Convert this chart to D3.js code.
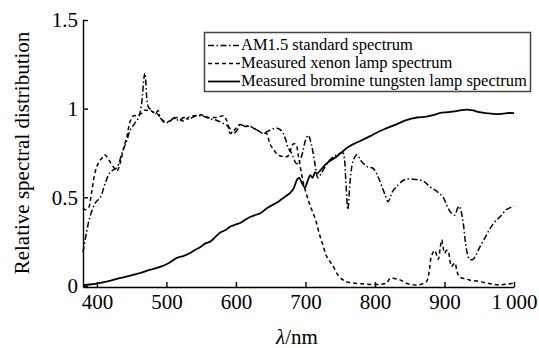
<!DOCTYPE html>
<html>
<head>
<meta charset="utf-8">
<script src="https://cdn.jsdelivr.net/npm/d3@7/dist/d3.min.js"></script>
<style>
  body { margin: 0; background: #fff; }
  .axis path, .axis line { stroke: #000; stroke-width: 1.4px; }
</style>
</head>
<body>
<div id="chart"></div>
<script>
// wavelength (nm), relative value
const am15 = [[380,0.19],[385,0.3],[390,0.39],[398,0.47],[405,0.5],[412,0.58],[419,0.64],[429,0.67],[436,0.75],[443,0.82],[448,0.88],[455,0.92],[460,0.95],[464,1.02],[469,1.2],[474,1.01],[479,0.99],[484,0.97],[488,0.99],[491,0.95],[498,0.92],[505,0.93],[512,0.95],[518,0.93],[525,0.95],[532,0.94],[540,0.955],[550,0.96],[558,0.95],[565,0.94],[572,0.935],[580,0.92],[589,0.9],[596,0.86],[602,0.88],[606,0.91],[613,0.9],[620,0.9],[630,0.88],[639,0.86],[645,0.87],[652,0.885],[659,0.89],[664,0.88],[668,0.86],[672,0.82],[675,0.78],[680,0.75],[687,0.69],[691,0.7],[695,0.74],[700,0.82],[704,0.85],[709,0.79],[714,0.68],[718,0.61],[722,0.63],[728,0.67],[735,0.71],[745,0.74],[754,0.75],[756,0.72],[758,0.6],[761,0.43],[764,0.58],[767,0.68],[770,0.72],[774,0.74],[778,0.72],[781,0.7],[790,0.67],[797,0.665],[804,0.62],[810,0.56],[815,0.51],[819,0.475],[825,0.53],[831,0.56],[843,0.6],[860,0.6],[870,0.59],[879,0.56],[890,0.53],[898,0.5],[905,0.44],[910,0.41],[915,0.4],[918,0.43],[921,0.45],[924,0.42],[927,0.355],[930,0.25],[933,0.18],[936,0.15],[941,0.15],[946,0.18],[951,0.22],[958,0.27],[965,0.32],[972,0.36],[980,0.39],[989,0.43],[1000,0.45]];

const xenon = [[380,0.44],[384,0.43],[388,0.44],[392,0.52],[398,0.65],[403,0.7],[407,0.72],[411,0.74],[414,0.73],[419,0.7],[424,0.67],[429,0.65],[434,0.7],[438,0.77],[443,0.84],[448,0.93],[453,0.96],[458,0.96],[462,0.97],[465,0.975],[468,0.99],[472,0.99],[477,0.99],[481,0.98],[486,0.975],[491,0.95],[496,0.93],[505,0.93],[510,0.94],[515,0.95],[520,0.94],[525,0.93],[530,0.945],[534,0.955],[540,0.96],[549,0.965],[555,0.96],[560,0.95],[566,0.95],[572,0.95],[577,0.955],[582,0.96],[587,0.93],[592,0.86],[598,0.88],[606,0.91],[613,0.9],[620,0.9],[630,0.88],[639,0.86],[644,0.86],[649,0.8],[654,0.77],[660,0.74],[668,0.73],[674,0.73],[678,0.76],[682,0.8],[686,0.8],[690,0.73],[694,0.64],[697,0.58],[702,0.51],[707,0.45],[714,0.38],[721,0.28],[726,0.22],[730,0.17],[735,0.14],[740,0.11],[747,0.06],[754,0.034],[760,0.022],[768,0.017],[780,0.012],[795,0.008],[810,0.01],[817,0.017],[821,0.04],[824,0.045],[830,0.04],[836,0.034],[845,0.015],[855,0.006],[865,0.008],[874,0.024],[878,0.08],[881,0.165],[886,0.2],[891,0.15],[894,0.22],[896,0.26],[898,0.22],[900,0.185],[903,0.2],[905,0.2],[908,0.14],[910,0.11],[915,0.13],[918,0.08],[922,0.05],[930,0.04],[936,0.034],[950,0.025],[960,0.017],[970,0.01],[980,0.006],[990,0.01],[1000,0.017]];

const tungsten = [[380,0.005],[390,0.008],[405,0.017],[420,0.03],[434,0.045],[448,0.058],[462,0.073],[476,0.09],[491,0.107],[503,0.128],[515,0.158],[525,0.17],[534,0.186],[542,0.205],[549,0.22],[556,0.24],[563,0.25],[570,0.275],[577,0.3],[585,0.315],[592,0.335],[599,0.345],[606,0.355],[614,0.375],[621,0.39],[628,0.4],[635,0.41],[645,0.44],[652,0.455],[659,0.47],[666,0.49],[673,0.51],[678,0.525],[683,0.55],[688,0.6],[691,0.61],[695,0.58],[699,0.555],[703,0.59],[707,0.625],[710,0.61],[714,0.64],[717,0.635],[721,0.65],[730,0.69],[745,0.73],[760,0.78],[769,0.8],[780,0.82],[793,0.845],[805,0.87],[817,0.89],[830,0.91],[845,0.935],[860,0.95],[874,0.955],[885,0.965],[893,0.975],[905,0.98],[915,0.985],[922,0.99],[932,0.995],[941,0.99],[950,0.98],[960,0.975],[970,0.97],[980,0.97],[990,0.975],[1000,0.975]];

const xTicks = [400, 500, 600, 700, 800, 900, 1000];
const yTicks = [0, 0.5, 1, 1.5];
const seriesNames = ['AM1.5 standard spectrum', 'Measured xenon lamp spectrum', 'Measured bromine tungsten lamp spectrum'];

const width = 539, height = 348;
const margin = { top: 20, right: 25, bottom: 61, left: 83 };
const serif = '"Liberation Serif"';

const svg = d3.select('#chart').append('svg')
  .attr('width', width)
  .attr('height', height);

const x = d3.scaleLinear().domain([380, 1000]).range([margin.left, width - margin.right]);
const y = d3.scaleLinear().domain([-0.006, 1.5]).range([height - margin.bottom, margin.top]);

const fmtX = d => d >= 1000 ? '1\u2009000' : String(d);
const fmtY = d => String(d);

svg.append('g')
  .attr('class', 'axis axis-x')
  .attr('transform', `translate(0, ${height - margin.bottom})`)
  .call(d3.axisBottom(x).tickValues(xTicks).tickFormat(fmtX).tickSizeInner(-5).tickSizeOuter(0).tickPadding(7));

svg.append('g')
  .attr('class', 'axis axis-y')
  .attr('transform', `translate(${margin.left}, 0)`)
  .call(d3.axisLeft(y).tickValues(yTicks).tickFormat(fmtY).tickSizeInner(-5).tickSizeOuter(0).tickPadding(5));

svg.selectAll('.axis text')
  .style('font-family', serif)
  .style('font-size', '21px')
  .style('fill', '#000');

const line = d3.line()
  .x(d => x(d[0]))
  .y(d => y(d[1]))
  .curve(d3.curveCatmullRom.alpha(0.5));

const styles = [
  { data: am15, dash: '6,2.5,1.5,2.5', w: 1.5 },
  { data: xenon, dash: '4,3', w: 1.5 },
  { data: tungsten, dash: null, w: 1.8 }
];

styles.forEach(s => {
  svg.append('path')
    .datum(s.data)
    .attr('fill', 'none')
    .attr('stroke', '#000')
    .attr('stroke-width', s.w)
    .attr('stroke-dasharray', s.dash)
    .attr('d', line);
});

// legend
const legend = svg.append('g').attr('class', 'legend');
legend.append('rect')
  .attr('x', 204.5).attr('y', 32.5)
  .attr('width', 326).attr('height', 59)
  .attr('fill', '#fff')
  .attr('stroke', '#444')
  .attr('stroke-width', 1.5);

seriesNames.forEach((name, i) => {
  const ly = 45.5 + i * 18;
  legend.append('line')
    .attr('x1', 208).attr('x2', 240)
    .attr('y1', ly).attr('y2', ly)
    .attr('stroke', '#000')
    .attr('stroke-width', styles[i].w)
    .attr('stroke-dasharray', styles[i].dash);
  legend.append('text')
    .attr('x', 241).attr('y', ly + 4.5)
    .style('font-family', serif)
    .style('font-size', '16.5px')
    .text(name);
});

// axis titles
svg.append('text')
  .attr('transform', `translate(29, 153) rotate(-90)`)
  .attr('text-anchor', 'middle')
  .style('font-family', serif)
  .style('font-size', '21px')
  .text('Relative spectral distribution');

const xt = svg.append('text')
  .attr('x', 297).attr('y', 344)
  .attr('text-anchor', 'middle')
  .style('font-family', serif)
  .style('font-size', '21px');
xt.append('tspan').style('font-style', 'italic').text('λ');
xt.append('tspan').text('/nm');
</script>
</body>
</html>
